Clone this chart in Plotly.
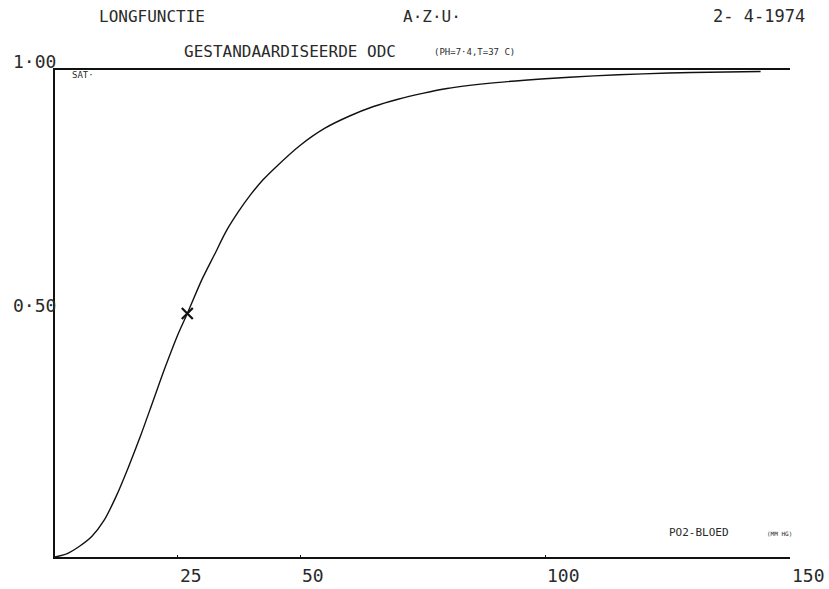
import plotly.graph_objects as go

# --- data ---
po2 = [0, 2.5, 5, 7.5, 10, 12.5, 15, 17.5, 20, 22.5, 25, 27, 30, 32.5, 35, 37.5,
       40, 42.5, 45, 50, 55, 60, 65, 70, 75, 80, 90, 100, 110, 120, 130, 144]
sat = [0, 0.007, 0.022, 0.042, 0.075, 0.125, 0.185, 0.25, 0.32, 0.39, 0.455, 0.5, 0.57,
       0.62, 0.67, 0.71, 0.745, 0.775, 0.80, 0.845, 0.88, 0.905, 0.925, 0.94, 0.952,
       0.962, 0.974, 0.982, 0.988, 0.992, 0.995, 0.997]
p50_x = [27]
p50_y = [0.5]
x_ticks = [25, 50, 100, 150]
x_tick_text = ["25", "50", "100", "150"]
y_ticks = [0.5, 1.0]
y_tick_text = ["0·50", "1·00"]

W, H = 829, 589
L, R, T, B = 55, 39, 70, 32
PW, PH = W - L - R, H - T - B


def px(x):
    return (x - L) / PW


def py(y):
    return (H - B - y) / PH


FONT = "DejaVu Sans Mono"
INK = "#111111"
TXT = "#2a2a2a"

fig = go.Figure()
fig.add_trace(go.Scatter(x=po2, y=sat, mode="lines",
                         line=dict(color=INK, width=1.4, shape="spline", smoothing=0.8),
                         hoverinfo="skip", showlegend=False))
fig.add_trace(go.Scatter(x=p50_x, y=p50_y, mode="markers",
                         marker=dict(symbol="x-thin", size=11,
                                     line=dict(color=INK, width=2.2)),
                         showlegend=False))

ann = []
for v, t in zip(x_ticks, x_tick_text):
    ann.append(dict(x=v, xref="x", y=py(575), yref="paper", text=t,
                    xanchor="left", yanchor="middle", showarrow=False,
                    font=dict(family=FONT, size=18, color=TXT)))
for v, t in zip(y_ticks, y_tick_text):
    ann.append(dict(x=px(58), xref="paper", y=v, yref="y", text=t,
                    xanchor="right", yanchor="bottom", showarrow=False, yshift=-4,
                    font=dict(family=FONT, size=18, color=TXT)))

texts = [
    ("LONGFUNCTIE", 152, 16, "center", 16),
    ("A·Z·U·", 432, 16, "center", 16),
    ("2- 4-1974", 759, 16, "center", 17),
    ("GESTANDAARDISEERDE ODC", 290, 51, "center", 16),
    ("(PH=7·4,T=37 C)", 432, 52, "left", 9),
    ("SAT·", 70, 75, "left", 9),
    ("PO2-BLOED", 667, 532, "left", 11),
    ("(MM HG)", 765, 533, "left", 6),
]
for t, x, y, anc, s in texts:
    ann.append(dict(x=px(x), xref="paper", y=py(y), yref="paper", text=t,
                    xanchor=anc, yanchor="middle", showarrow=False,
                    font=dict(family=FONT, size=s, color=TXT)))

fig.update_layout(
    width=W, height=H,
    margin=dict(l=L, r=R, t=T, b=B, pad=0),
    paper_bgcolor="white", plot_bgcolor="white",
    annotations=ann,
    hovermode=False,
    xaxis=dict(range=[0, 150], showgrid=False, zeroline=False,
               showline=True, linecolor=INK, linewidth=1.5, mirror=True,
               tickvals=x_ticks, ticks="inside", ticklen=2, tickcolor=INK,
               showticklabels=False),
    yaxis=dict(range=[0, 1], showgrid=False, zeroline=False,
               showline=True, linecolor=INK, linewidth=1.5,
               tickvals=y_ticks, ticks="", showticklabels=False),
)

fig.write_html("out.html", config={"displayModeBar": False},
               post_script="document.body.style.margin='0';document.body.style.overflow='hidden';")
